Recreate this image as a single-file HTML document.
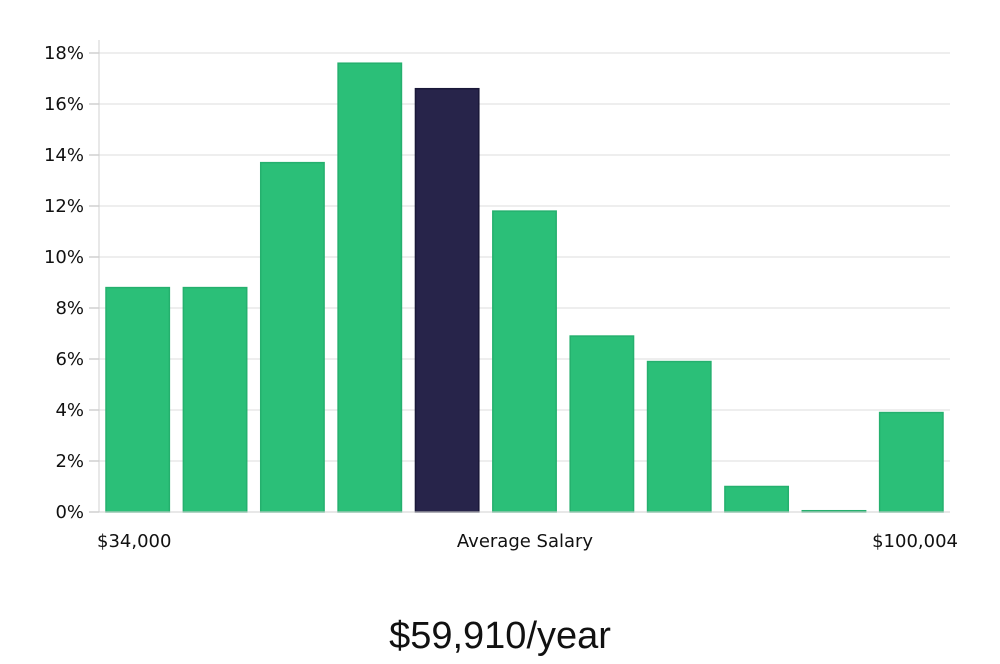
<!DOCTYPE html>
<html><head><meta charset="utf-8">
<style>
html,body{margin:0;padding:0;background:#fff;}
body{width:1000px;height:660px;overflow:hidden;font-family:"DejaVu Sans","Liberation Sans",sans-serif;}
svg text{font-family:"DejaVu Sans","Liberation Sans",sans-serif;}
</style></head>
<body>
<svg id="chart" width="1000" height="660" xmlns="http://www.w3.org/2000/svg">
<g id="grid"></g>
<g id="bars"></g>
<g id="yaxis"></g>
<text x="97" y="547" font-size="18" fill="#111">$34,000</text>
<text x="525" y="547" font-size="18" fill="#111" text-anchor="middle">Average Salary</text>
<text x="958" y="547" font-size="18" fill="#111" text-anchor="end">$100,004</text>
<text x="500" y="648" font-size="38" fill="#111" text-anchor="middle" style="font-family:'Liberation Sans',sans-serif;font-weight:300">$59,910/year</text>
</svg>
<script>
const categories = ["b1","b2","b3","b4","b5","b6","b7","b8","b9","b10","b11"];
const values = [8.8, 8.8, 13.7, 17.6, 16.6, 11.8, 6.9, 5.9, 1.0, 0.05, 3.9];
const highlightIndex = 4;
const yTicks = [0, 2, 4, 6, 8, 10, 12, 14, 16, 18];
const yTickLabels = ["0%","2%","4%","6%","8%","10%","12%","14%","16%","18%"];

const NS = "http://www.w3.org/2000/svg";
const x0 = 99, x1 = 950, yBase = 512, yTop18 = 53;
function y(v){ return yBase - (v/18)*(yBase - yTop18); }
const band = (x1 - x0) / categories.length;
function x(i){ return x0 + band*i; }

const grid = document.getElementById('grid');
const yaxis = document.getElementById('yaxis');
yTicks.forEach((t,i)=>{
  const yy = y(t);
  const gl = document.createElementNS(NS,'line');
  
  
  gl.setAttribute('x1',x0); gl.setAttribute('x2',x1);
  gl.setAttribute('y1',yy); gl.setAttribute('y2',yy);
  gl.setAttribute('stroke','#dcdcdc'); gl.setAttribute('stroke-width','1');
  grid.appendChild(gl);
  const tk = document.createElementNS(NS,'line');
  
  
  tk.setAttribute('x1',89); tk.setAttribute('x2',x0);
  tk.setAttribute('y1',yy); tk.setAttribute('y2',yy);
  tk.setAttribute('stroke','#d0d0d0'); tk.setAttribute('stroke-width','1.5');
  yaxis.appendChild(tk);
  const lb = document.createElementNS(NS,'text');
  
  
  lb.setAttribute('x',84); lb.setAttribute('y',yy+6);
  lb.setAttribute('text-anchor','end'); lb.setAttribute('font-size','18');
  lb.setAttribute('fill','#111');
  lb.textContent = yTickLabels[i];
  yaxis.appendChild(lb);
});
const ax = document.createElementNS(NS,'line');


ax.setAttribute('x1',x0); ax.setAttribute('x2',x0);
ax.setAttribute('y1',40); ax.setAttribute('y2',yBase);
ax.setAttribute('stroke','#d0d0d0'); ax.setAttribute('stroke-width','1');
yaxis.appendChild(ax);
const bl = document.createElementNS(NS,'line');


bl.setAttribute('x1',x0); bl.setAttribute('x2',x1);
bl.setAttribute('y1',yBase); bl.setAttribute('y2',yBase);
bl.setAttribute('stroke','#d0d0d0'); bl.setAttribute('stroke-width','1');
yaxis.appendChild(bl);

const bars = document.getElementById('bars');
values.forEach((v,i)=>{
  const r = document.createElementNS(NS,'rect');
  
  
  const pad = 7;
  r.setAttribute('x', x(i)+pad);
  r.setAttribute('width', band-2*pad);
  const top = y(v);
  r.setAttribute('y', top);
  r.setAttribute('height', Math.max(yBase-top,1));
  const hl = i===highlightIndex;
  r.setAttribute('fill', hl ? '#27244a' : '#2bbf78');
  r.setAttribute('stroke', hl ? '#1a1838' : '#25b06e');
  r.setAttribute('stroke-width','1.5');
  bars.appendChild(r);
});
</script>
</body></html>
